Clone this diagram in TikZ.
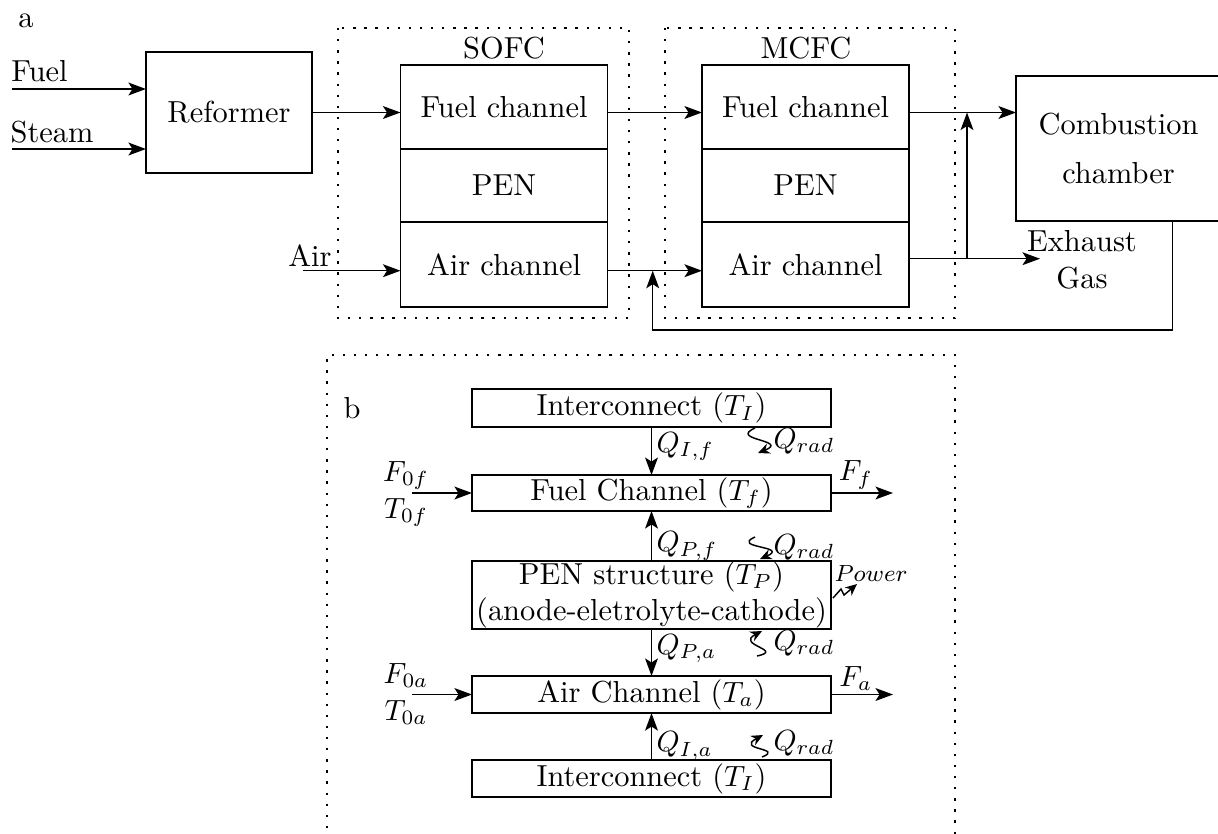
\documentclass[tikz,border=0pt]{standalone}
\usepackage{amsmath}
\usetikzlibrary{arrows.meta, positioning, calc}
\tikzset{
  block/.style={rectangle, draw, inner sep=0pt, outer sep=0pt, align=center, line width=0.5pt},
  arrow/.style={-{Stealth[length=6pt, width=4.4pt, inset=1.4pt]}, line width=0.5pt},
  radarrow/.style={-{Stealth[length=4pt, width=3.6pt]}, line width=0.5pt},
  dotbox/.style={dash pattern=on 0.8pt off 3pt, line width=0.6pt},
  lbl/.style={inner sep=1pt},
  qrad/.style={anchor=west, inner sep=1pt}
}

\begin{document}
\begin{tikzpicture}[x=0.342pt, y=-0.342pt, font=\fontsize{10.4}{12.5}\selectfont]
  \useasboundingbox (0,0) rectangle (1218,833);

  % (a) plant layout
  \node[lbl] (la) at (26,21) {a};
  \node[block, minimum width=56.8pt, minimum height=41.4pt] (ref) at (229,112.5) {Reformer};

  \node[block, minimum width=70.8pt, minimum height=28.7pt] (sofcf) at (504,107) {Fuel channel};
  \node[block, minimum width=70.8pt, minimum height=25pt, below=0pt of sofcf] (sofcp) {PEN};
  \node[block, minimum width=70.8pt, minimum height=29.1pt, below=0pt of sofcp] (sofca) {Air channel};

  \node[block, minimum width=70.8pt, minimum height=28.7pt] (mcfcf) at (805.5,107) {Fuel channel};
  \node[block, minimum width=70.8pt, minimum height=25pt, below=0pt of mcfcf] (mcfcp) {PEN};
  \node[block, minimum width=70.8pt, minimum height=29.1pt, below=0pt of mcfcp] (mcfca) {Air channel};

  \node[lbl] (sofcl) at (504,48) {SOFC};
  \node[lbl] (mcfcl) at (806,48) {MCFC};
  \draw[dotbox] (338,28) rectangle (629,318);
  \draw[dotbox] (665,28) rectangle (955,318);

  \node[block, minimum width=70.1pt, minimum height=49.6pt] (comb) at (1118.5,148.5) {Combustion\\[4pt]chamber};
  \node[lbl, align=center] (exh) at (1082,260) {Exhaust\\Gas};

  \node[lbl] (fuell) at (39.5,71) {Fuel};
  \node[lbl] (steaml) at (52,132) {Steam};
  \node[lbl] (airl) at (310,256) {Air};

  \coordinate (fuelin) at (12,89);
  \coordinate (steamin) at (12,149);
  \coordinate (airin) at (302.7,270.7);
  \coordinate (exhtip) at (1040,258.7);
  \coordinate (jn) at (967,258.7);
  \coordinate (rc) at (1172.7,330);
  \coordinate (rcj) at (652.7,270.7);

  \draw[arrow] (fuelin) -- (fuelin -| ref.west);
  \draw[arrow] (steamin) -- (steamin -| ref.west);
  \draw[arrow] (ref.east) -- (ref.east -| sofcf.west);
  \draw[arrow] (sofcf.east |- ref.east) -- (mcfcf.west |- ref.east);
  \draw[arrow] (mcfcf.east |- ref.east) -- (comb.west |- ref.east);
  \draw[arrow] (airin) -- (airin -| sofca.west);
  \draw[arrow] (sofca.east |- airin) -- (mcfca.west |- airin);
  \draw[arrow] (mcfca.east |- exhtip) -- (exhtip);
  \draw[arrow] (jn) -- (jn |- ref.east);
  \draw[arrow] (rc |- comb.south) -- (rc) -- (rcj |- rc) -- (rcj);

  % (b) cell model
  \draw[dotbox] (955,845) -- (955,355) -- (327,355) -- (327,845);
  \node[lbl] (lb) at (352,408) {b};

  \node[block, minimum width=122.8pt, minimum height=13pt] (ict) at (651.5,408) {Interconnect ($T_I$)};
  \node[block, minimum width=122.8pt, minimum height=12.3pt] (fch) at (651.5,493) {Fuel Channel ($T_f$)};
  \node[block, minimum width=122.8pt, minimum height=23.3pt] (pen) at (651.5,595) {PEN structure ($T_P$)\\(anode-eletrolyte-cathode)};
  \node[block, minimum width=122.8pt, minimum height=12.7pt] (ach) at (651.5,694.5) {Air Channel ($T_a$)};
  \node[block, minimum width=122.8pt, minimum height=12.7pt] (icb) at (651.5,778.5) {Interconnect ($T_I$)};

  \draw[arrow] (ict.south) -- node[right, inner sep=1.5pt, pos=0.4] {$Q_{I,f}$} (fch.north);
  \draw[arrow] (pen.north) -- node[right, inner sep=1.5pt, pos=0.3] {$Q_{P,f}$} (fch.south);
  \draw[arrow] (pen.south) -- node[right, inner sep=1.5pt, pos=0.42] {$Q_{P,a}$} (ach.north);
  \draw[arrow] (icb.north) -- node[right, inner sep=1.5pt, pos=0.3] {$Q_{I,a}$} (ach.south);

  \node[lbl, align=center] (fin) at (406,494) {$F_{0f}$\\$T_{0f}$};
  \node[lbl, align=center] (ain) at (406,694) {$F_{0a}$\\$T_{0a}$};
  \coordinate (inx) at (412,0);
  \coordinate (outx) at (893,0);
  \draw[arrow] (fch.west -| inx) -- (fch.west);
  \draw[arrow] (ach.west -| inx) -- (ach.west);
  \draw[arrow] (fch.east) -- node[above, lbl, pos=0.4] {$F_f$} (fch.east -| outx);
  \draw[arrow] (ach.east) -- node[above, lbl, pos=0.4] {$F_a$} (ach.east -| outx);

  % radiation and power
  \node[qrad] (qr1) at (770,441) {$Q_{rad}$};
  \node[qrad] (qr2) at (770,547) {$Q_{rad}$};
  \node[qrad] (qr3) at (770,643) {$Q_{rad}$};
  \node[qrad] (qr4) at (770,743) {$Q_{rad}$};
  \draw[radarrow] (755,428) .. controls (728,440) and (790,440) .. (758,453);
  \draw[radarrow] (755,537) .. controls (730,548) and (790,546) .. (760,559);
  \draw[radarrow] (757,656) .. controls (785,650) and (735,645) .. (762,631);
  \draw[radarrow] (762,757) .. controls (785,748) and (735,750) .. (763,735);

  \node[qrad, font=\footnotesize] (pw) at (831,573) {$Power$};
  \draw[radarrow] (833,598) -- (841,589) -- (844,595) -- (857,584);
\end{tikzpicture}
\end{document}
